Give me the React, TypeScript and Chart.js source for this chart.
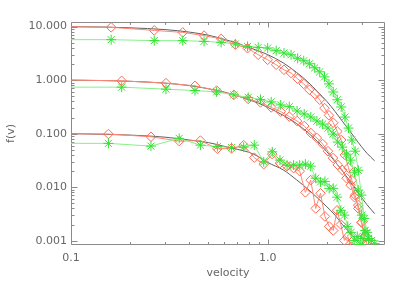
import React, { useEffect, useRef } from 'react';
import { Chart, registerables } from 'chart.js';

Chart.register(...registerables);

// ---------- data ----------
// model curves (black)
const vModel = [0.1, 0.15, 0.2, 0.3, 0.4, 0.5, 0.6, 0.7, 0.8, 0.9, 1.0, 1.2, 1.4, 1.6, 1.8, 2.0, 2.2, 2.4, 2.6, 2.8, 3.0, 3.2, 3.5];
const fitTop = [10, 9.8, 9.5, 8.8, 7.9, 6.9, 5.8, 4.9, 4.1, 3.5, 3.0, 2.1, 1.4, 0.93, 0.6, 0.4, 0.26, 0.17, 0.115, 0.08, 0.057, 0.043, 0.031];
const fitMid = [1.0, 0.98, 0.95, 0.88, 0.79, 0.69, 0.6, 0.51, 0.43, 0.37, 0.31, 0.22, 0.155, 0.105, 0.07, 0.046, 0.03, 0.02, 0.0135, 0.0092, 0.0064, 0.0047, 0.0032];
const fitBot = [0.1, 0.097, 0.094, 0.086, 0.076, 0.068, 0.058, 0.051, 0.045, 0.037, 0.029, 0.021, 0.0138, 0.0092, 0.0062, 0.0043, 0.003, 0.002, 0.00145, 0.00107, 0.00082, 0.00065, 0.0005];

// top group
const vTop = [0.055, 0.16, 0.265, 0.37, 0.475, 0.58, 0.685, 0.79, 0.895, 1.0, 1.105, 1.21, 1.315, 1.42, 1.525, 1.63, 1.735, 1.84, 1.945, 2.05, 2.155, 2.26, 2.365, 2.47, 2.575, 2.68, 2.785, 2.89, 2.995, 3.1, 3.205];
const redTop = [10.3, 9.7, 8.5, 7.8, 6.8, 5.9, 4.6, 3.95, 2.98, 2.4, 1.94, 1.56, 1.36, 1.06, 0.85, 0.66, 0.55, 0.43, 0.3, 0.22, 0.16, 0.11, 0.076, 0.04, 0.023, 0.0135, 0.0071, 0.004, 0.0022, 0.0012, 0.00085];
const greenTop = [5.7, 5.7, 5.47, 5.47, 5.3, 5.08, 4.74, 4.27, 4.09, 3.98, 3.55, 3.21, 2.98, 2.56, 2.3, 2.02, 1.7, 1.43, 1.15, 0.85, 0.6, 0.43, 0.315, 0.204, 0.127, 0.076, 0.047, 0.0207, 0.0071, 0.0026, 0.00143];

// middle group
const vMid = [0.058, 0.181, 0.304, 0.427, 0.55, 0.673, 0.796, 0.919, 1.042, 1.165, 1.288, 1.411, 1.534, 1.657, 1.78, 1.903, 2.026, 2.149, 2.272, 2.395, 2.518, 2.641, 2.764, 2.887, 3.01, 3.133, 3.256, 3.379, 3.502];
const redMid = [1.03, 0.97, 0.878, 0.782, 0.638, 0.53, 0.445, 0.383, 0.309, 0.258, 0.208, 0.172, 0.139, 0.103, 0.083, 0.064, 0.047, 0.035, 0.026, 0.021, 0.0147, 0.0109, 0.0065, 0.0046, 0.0022, 0.0012];
const greenMid = [0.74, 0.739, 0.678, 0.638, 0.603, 0.53, 0.476, 0.436, 0.392, 0.344, 0.32, 0.265, 0.233, 0.205, 0.172, 0.151, 0.127, 0.098, 0.0695, 0.056, 0.0414, 0.032, 0.019, 0.0088, 0.003, 0.00155, 0.0011, 0.00101, 0.00088];

// bottom group
const vBot = [0.055, 0.155, 0.255, 0.355, 0.455, 0.555, 0.655, 0.755, 0.855, 0.955, 1.055, 1.155, 1.255, 1.355, 1.455, 1.555, 1.655, 1.755, 1.855, 1.955, 2.055, 2.155, 2.255, 2.355, 2.455, 2.555, 2.655, 2.755, 2.855, 2.955, 3.055];
const redBot = [0.101, 0.0983, 0.0875, 0.0726, 0.0742, 0.0521, 0.053, 0.061, 0.0356, 0.0269, 0.0414, 0.0281, 0.0247, 0.0226, 0.0199, 0.008, 0.0135, 0.004, 0.0077, 0.00284, 0.00185, 0.00155, 0.0037, 0.00201, 0.00101, 0.0012, 0.00078];
const greenBot = [0.066, 0.0658, 0.0585, 0.0817, 0.061, 0.0573, 0.0549, 0.056, 0.061, 0.0297, 0.0457, 0.032, 0.0258, 0.0258, 0.0258, 0.0269, 0.0247, 0.0147, 0.0125, 0.0128, 0.0095, 0.0095, 0.0065, 0.0037, 0.003, 0.00185, 0.00143, 0.00101, 0.0012, 0.00085, 0.0011];

// axes
const xRange = [0.1, 3.95];
const yRange = [0.00083, 12.2];
const xTicks = [0.1, 1];
const xTickLabels = ['0.1', '1.0'];
const xMinorTicks = [0.2, 0.3, 0.4, 0.5, 0.6, 0.7, 0.8, 0.9, 2, 3];
const yTicks = [0.001, 0.01, 0.1, 1, 10];
const yTickLabels = ['0.001', '0.010', '0.100', '1.000', '10.000'];
const yMinorTicks = [
  0.002, 0.003, 0.004, 0.005, 0.006, 0.007, 0.008, 0.009,
  0.02, 0.03, 0.04, 0.05, 0.06, 0.07, 0.08, 0.09,
  0.2, 0.3, 0.4, 0.5, 0.6, 0.7, 0.8, 0.9,
  2, 3, 4, 5, 6, 7, 8, 9,
];

// ---------- styles ----------
const AXIS_COLOR = '#8a8a8a';
const TEXT_COLOR = '#666666';
const FIT_COLOR = '#5e5e5e';
const RED_MARK = 'rgb(255,105,85)';
const RED_LINE = 'rgb(255,135,115)';
const GREEN_MARK = 'rgb(50,228,50)';
const GREEN_LINE = 'rgb(135,240,135)';

const pairs = (xs: number[], ys: number[]) => ys.map((y, i) => ({ x: xs[i], y }));

const framePlugin = {
  id: 'idlFrame',
  beforeDatasetsDraw(chart: any) {
    const { ctx, chartArea: a, scales } = chart;
    const xs = scales.x;
    const ys = scales.y;
    const L = Math.round(a.left) + 0.5;
    const R = Math.round(a.right) - 0.5;
    const T = Math.round(a.top) + 0.5;
    const B = Math.round(a.bottom) - 0.5;
    ctx.save();
    ctx.strokeStyle = AXIS_COLOR;
    ctx.lineWidth = 1;
    ctx.beginPath();
    ctx.rect(L, T, R - L, B - T);
    const xt = (v: number, len: number) => {
      const p = Math.round(xs.getPixelForValue(v)) + 0.5;
      ctx.moveTo(p, B);
      ctx.lineTo(p, B - len);
      ctx.moveTo(p, T);
      ctx.lineTo(p, T + len);
    };
    const yt = (v: number, len: number) => {
      const p = Math.round(ys.getPixelForValue(v)) + 0.5;
      ctx.moveTo(L, p);
      ctx.lineTo(L + len, p);
      ctx.moveTo(R, p);
      ctx.lineTo(R - len, p);
    };
    xTicks.forEach((v) => xt(v, 5));
    xMinorTicks.forEach((v) => xt(v, 2.5));
    yTicks.forEach((v) => yt(v, 6));
    yMinorTicks.forEach((v) => yt(v, 3));
    ctx.stroke();
    ctx.restore();
  },
};

export default function App() {
  const ref = useRef<HTMLCanvasElement | null>(null);

  useEffect(() => {
    if (!ref.current) return;
    Chart.defaults.font.family = 'DejaVu Sans';
    Chart.defaults.font.size = 11;
    Chart.defaults.color = TEXT_COLOR;

    const fitDs = (data: number[]) => ({
      data: pairs(vModel, data),
      showLine: true,
      borderColor: FIT_COLOR,
      borderWidth: 1,
      pointRadius: 0,
      cubicInterpolationMode: 'monotone' as const,
      clip: 0,
      order: 3,
    });
    const redDs = (xs: number[], data: number[]) => ({
      data: pairs(xs, data),
      showLine: true,
      borderColor: RED_LINE,
      borderWidth: 1,
      pointStyle: 'rectRot' as const,
      pointRadius: 4.8,
      pointBorderColor: RED_MARK,
      pointBackgroundColor: 'rgba(0,0,0,0)',
      pointBorderWidth: 1,
      clip: 0,
      order: 2,
    });
    const greenDs = (xs: number[], data: number[]) => ({
      data: pairs(xs, data),
      showLine: true,
      borderColor: GREEN_LINE,
      borderWidth: 1,
      pointStyle: 'star' as const,
      pointRadius: 5,
      pointBorderColor: GREEN_MARK,
      pointBackgroundColor: GREEN_MARK,
      pointBorderWidth: 1,
      clip: 0,
      order: 1,
    });

    const chart = new Chart(ref.current, {
      type: 'scatter',
      data: {
        datasets: [
          fitDs(fitTop),
          fitDs(fitMid),
          fitDs(fitBot),
          redDs(vTop, redTop),
          redDs(vMid, redMid),
          redDs(vBot, redBot),
          greenDs(vTop, greenTop),
          greenDs(vMid, greenMid),
          greenDs(vBot, greenBot),
        ] as any,
      },
      options: {
        responsive: false,
        animation: false,
        devicePixelRatio: 1,
        events: [],
        layout: { padding: { left: 0, top: 22, right: 22, bottom: 0 } },
        plugins: { legend: { display: false }, tooltip: { enabled: false } },
        scales: {
          x: {
            type: 'logarithmic',
            min: xRange[0],
            max: xRange[1],
            grid: { display: false, drawTicks: false },
            border: { display: false },
            afterBuildTicks: (s: any) => {
              s.ticks = xTicks.map((v) => ({ value: v, major: true }));
            },
            afterFit: (s: any) => {
              s.height = 46;
            },
            ticks: {
              autoSkip: false,
              maxRotation: 0,
              minRotation: 0,
              padding: 7,
              color: TEXT_COLOR,
              callback: (_v: any, i: number) => xTickLabels[i],
            },
            title: {
              display: true,
              text: 'velocity',
              color: TEXT_COLOR,
              padding: { top: 0, bottom: 11 },
            },
          },
          y: {
            type: 'logarithmic',
            min: yRange[0],
            max: yRange[1],
            grid: { display: false, drawTicks: false },
            border: { display: false },
            afterBuildTicks: (s: any) => {
              s.ticks = yTicks.map((v) => ({ value: v, major: true }));
            },
            afterFit: (s: any) => {
              s.width = 71;
            },
            ticks: {
              autoSkip: false,
              padding: 4,
              color: TEXT_COLOR,
              callback: (_v: any, i: number) => yTickLabels[i],
            },
            title: {
              display: true,
              text: 'f(v)',
              color: TEXT_COLOR,
              padding: { top: 5, bottom: 0 },
            },
          },
        },
      } as any,
      plugins: [framePlugin],
    });
    return () => chart.destroy();
  }, []);

  return (
    <div style={{ position: 'fixed', left: 0, top: 0, width: 407, height: 291, background: '#fff' }}>
      <canvas ref={ref} width={407} height={291} />
    </div>
  );
}
